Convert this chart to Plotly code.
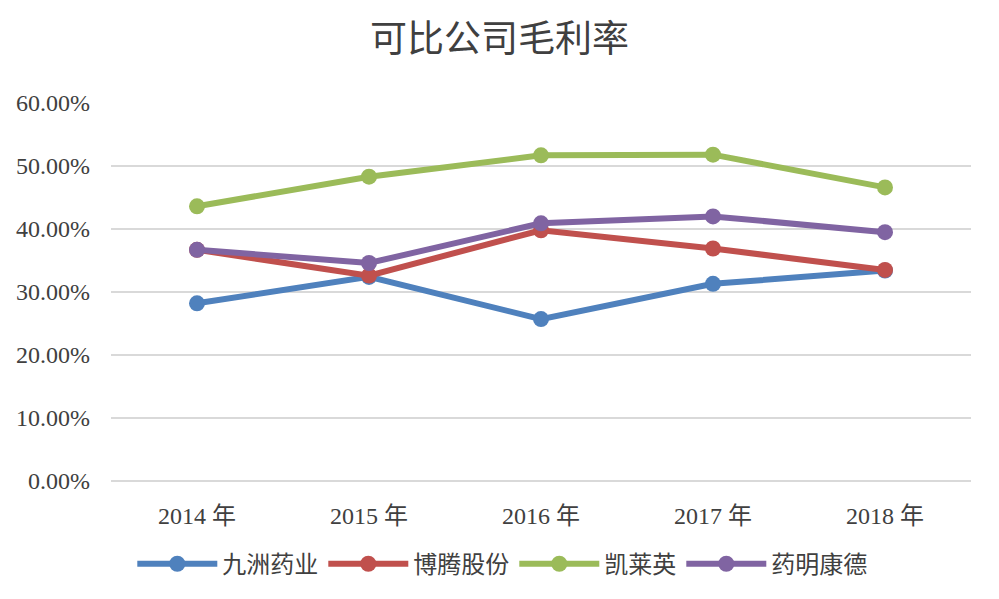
import plotly.graph_objects as go

years = ["2014 年", "2015 年", "2016 年", "2017 年", "2018 年"]
jiuzhou = [0.282, 0.324, 0.257, 0.313, 0.334]
boteng = [0.367, 0.326, 0.398, 0.369, 0.335]
kailaiying = [0.436, 0.483, 0.517, 0.518, 0.466]
yaoming = [0.367, 0.346, 0.409, 0.420, 0.395]

names = ["九洲药业", "博腾股份", "凯莱英", "药明康德"]
series = [jiuzhou, boteng, kailaiying, yaoming]
colors = ["#4F81BD", "#C0504D", "#9BBB59", "#8064A2"]

font_fam = "Liberation Serif, Noto Sans CJK SC, serif"

fig = go.Figure()
for n, s, c in zip(names, series, colors):
    fig.add_trace(go.Scatter(
        x=years, y=s, name=n, mode="lines+markers",
        line=dict(color=c, width=6),
        marker=dict(color=c, size=16),
    ))

fig.update_layout(
    width=999, height=599,
    paper_bgcolor="white", plot_bgcolor="white",
    margin=dict(l=111, r=28, t=103, b=115),
    title=dict(text="可比公司毛利率", x=0.5, xanchor="center", y=0.935, yanchor="middle",
               font=dict(family="Noto Sans CJK SC, sans-serif", size=37, color="#404040")),
    xaxis=dict(showgrid=False, showline=False, zeroline=False, ticks="",
               range=[-0.5, 4.5], ticklabelstandoff=18,
               tickfont=dict(family=font_fam, size=24, color="#404040")),
    yaxis=dict(range=[0, 0.6], dtick=0.1, tickformat=".2%", showgrid=True,
               gridcolor="#D9D9D9", gridwidth=2, zeroline=True,
               zerolinecolor="#D9D9D9", zerolinewidth=2, showline=False,
               ticks="", ticklabelstandoff=20,
               tickfont=dict(family=font_fam, size=24, color="#404040")),
    legend=dict(orientation="h", x=0.455, xanchor="center", y=-0.22, yanchor="middle",
                font=dict(family="Noto Sans CJK SC, sans-serif", size=24, color="#404040"),
                itemwidth=80),
    showlegend=True,
)

fig.write_html("out.html")
